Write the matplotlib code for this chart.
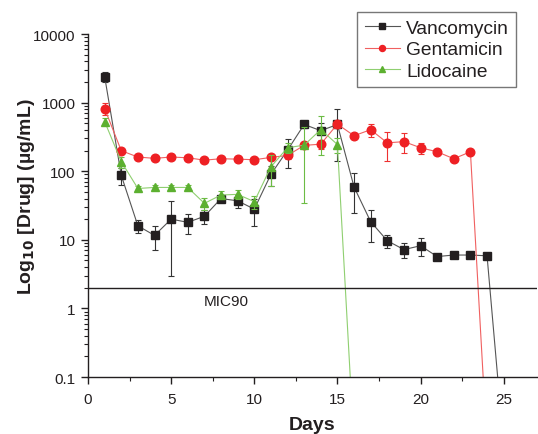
import matplotlib
matplotlib.use("Agg")
import matplotlib.pyplot as plt
from matplotlib.ticker import FixedLocator, FuncFormatter, LogLocator, MultipleLocator, NullFormatter

plt.rcParams['font.family'] = ['Liberation Sans', 'DejaVu Sans']

# ---- data ----
vanc_days = [1, 2, 3, 4, 5, 6, 7, 8, 9, 10, 11, 12, 13, 14, 15, 16, 17, 18, 19, 20, 21, 22, 23, 24, 25]
vanc_vals = [2400, 87, 16, 11.6, 20, 18, 22, 40, 37, 28, 90, 203, 480, 390, 480, 59, 18.4, 9.7, 7.2, 8.2, 5.7, 6.0, 6.0, 5.85, 0.01]
vanc_err = [400, 25, 3.5, 4.5, 17, 6, 5, 5, 8, 12, 30, 90, 50, 120, 340, 34, 9, 2.2, 1.7, 2.3, 0.3, 0.3, 0.3, 0.3, 0]

gent_days = [1, 2, 3, 4, 5, 6, 7, 8, 9, 10, 11, 12, 13, 14, 15, 16, 17, 18, 19, 20, 21, 22, 23, 24]
gent_vals = [820, 199, 161, 154, 161, 157, 145, 152, 150, 147, 159, 170, 238, 248, 486, 329, 403, 259, 270, 220, 192, 152, 192, 0.01]
gent_err = [170, 15, 10, 10, 10, 10, 10, 10, 10, 10, 15, 20, 20, 40, 60, 30, 85, 120, 85, 40, 10, 10, 10, 0]

lido_days = [1, 2, 3, 4, 5, 6, 7, 8, 9, 10, 11, 12, 13, 14, 15, 16]
lido_vals = [530, 138, 56, 58, 58, 58, 34, 45, 46, 36, 116, 220, 240, 405, 245, 0.01]
lido_err = [60, 25, 5, 5, 5, 5, 7, 6, 7, 8, 55, 35, 206, 230, 60, 0]

mic90 = 2
y_ticks = [0.1, 1, 10, 100, 1000, 10000]
x_ticks = [0, 5, 10, 15, 20, 25]

text_c = '#231f20'

fig = plt.figure(figsize=(5.38, 4.35), dpi=100)
ax = fig.add_axes([0.1636, 0.131, 0.8344, 0.7885])

series = [
    ('Vancomycin', vanc_days, vanc_vals, vanc_err, 's', '#231f20', '#555555', '#333333', 5.6),
    ('Gentamicin', gent_days, gent_vals, gent_err, 'o', '#ee2024', '#f06060', '#ee3030', 6.2),
    ('Lidocaine', lido_days, lido_vals, lido_err, '^', '#5cb030', '#8fcf70', '#6cbc44', 6.2),
]
handles = []
for name, d, v, e, mk, mc, lc, ec, ms in series:
    ax.errorbar(d, v, yerr=e, fmt='none', ecolor=ec, elinewidth=0.8, capsize=2.5, capthick=0.8)
    h, = ax.plot(d, v, color=lc, lw=0.8, marker=mk, markersize=ms,
                 markerfacecolor=mc, markeredgecolor=mc, label=name)
    handles.append(h)

ax.axhline(mic90, color=text_c, lw=1.0)
ax.text(6.95, 1.3, 'MIC90', fontsize=11, color=text_c, ha='left', va='center')

ax.set_yscale('log')
ax.set_ylim(0.1, 10000)
ax.set_xlim(0, 27)
ax.yaxis.set_major_locator(FixedLocator(y_ticks))
ax.yaxis.set_major_formatter(FuncFormatter(lambda val, pos: '{:g}'.format(val)))
ax.yaxis.set_minor_locator(LogLocator(base=10, subs=range(2, 10), numticks=20))
ax.yaxis.set_minor_formatter(NullFormatter())
ax.xaxis.set_major_locator(FixedLocator(x_ticks))
ax.xaxis.set_minor_locator(MultipleLocator(2.5))

for s in ['top', 'right']:
    ax.spines[s].set_visible(False)
for s in ['left', 'bottom']:
    ax.spines[s].set_color(text_c)
    ax.spines[s].set_linewidth(1.0)

ax.tick_params(axis='both', which='major', direction='out', length=5, width=1.0,
               colors=text_c, labelsize=11)
ax.tick_params(axis='both', which='minor', direction='out', length=3, width=0.8, colors=text_c)
ax.tick_params(axis='y', which='major', pad=4)
ax.tick_params(axis='x', which='major', pad=6)

ax.set_xlabel('Days', fontsize=14, fontweight='bold', color=text_c, labelpad=7)
ax.set_ylabel('Log$_{\\mathbf{10}}$ [Drug] (µg/mL)', fontsize=14, fontweight='bold', color=text_c)
ax.yaxis.set_label_coords(-0.113, 0.53)

leg = ax.legend(handles=handles, loc='upper left', bbox_to_anchor=(0.6636, 0.970),
                bbox_transform=fig.transFigure, borderaxespad=0, fontsize=13.8,
                frameon=True, fancybox=False, handlelength=1.85, handletextpad=0.3,
                labelspacing=0.2, borderpad=0.4, markerscale=0.7)
leg.get_frame().set_edgecolor('#555555')
leg.get_frame().set_linewidth(1.0)
for t in leg.get_texts():
    t.set_color(text_c)

fig.savefig('out.png', dpi=100)
